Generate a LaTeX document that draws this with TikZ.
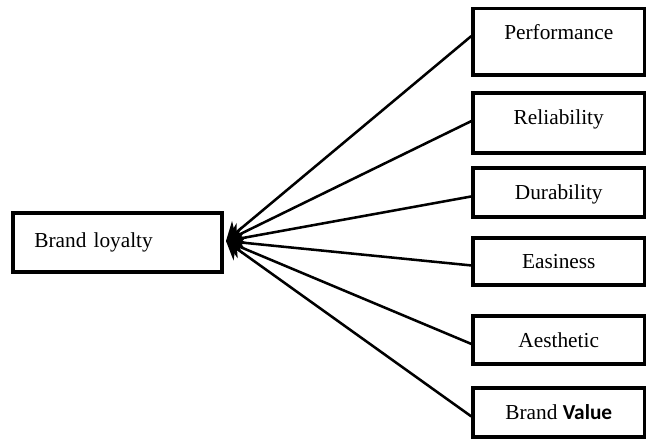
\documentclass[tikz,border=0pt]{standalone}
\usepackage{fontspec}
\setmainfont{Liberation Serif}
\newfontfamily\calibrifont{Carlito}
\usetikzlibrary{arrows.meta}
\tikzset{%
  every factor/.style={
    draw,
    line width=2.5pt,
    minimum width=128.6pt,
    inner sep=0pt,
    text height=11pt,
    text depth=0.5pt,
    font=\fontsize{16}{19}\selectfont
  },
  factor performance/.style={minimum height=50pt, text depth=14.6pt},
  factor reliability/.style={minimum height=45pt, text depth=9.3pt},
  factor durability/.style={minimum height=36.75pt},
  factor easiness/.style={minimum height=35.25pt},
  factor aesthetic/.style={minimum height=36pt},
  factor value/.style={minimum height=36.75pt},
  loyalty/.style={
    draw,
    line width=2.5pt,
    minimum height=44.25pt,
    inner xsep=16pt,
    inner ysep=0pt,
    text width=124.75pt,
    align=left,
    text height=11pt,
    text depth=3.5pt,
    font=\fontsize{16}{19}\selectfont
  },
}

\begin{document}
\begin{tikzpicture}[x=0.75pt, y=-0.75pt, >=Stealth]
\useasboundingbox (0,0) rectangle (646,440);

\node [loyalty] (brand-loyalty) at (117.5,242.5) {Brand loyalty};
\coordinate (hub) at (226,241);

\foreach \m/\y/\l in {performance/41.5/Performance,
                      reliability/123/Reliability,
                      durability/192.5/Durability,
                      easiness/261.5/Easiness,
                      aesthetic/340/Aesthetic,
                      value/412.5/{Brand \textbf{\calibrifont Value}}}
  \node [every factor/.try, factor \m/.try] (factor-\m) at (558.75,\y) {\l};

\foreach \m in {performance,reliability,durability,easiness,aesthetic,value}
  \draw [-{Stealth[length=13pt, width=17pt]}, line width=1.9pt]
    (factor-\m.mid west) -- (hub);
\end{tikzpicture}
\end{document}
